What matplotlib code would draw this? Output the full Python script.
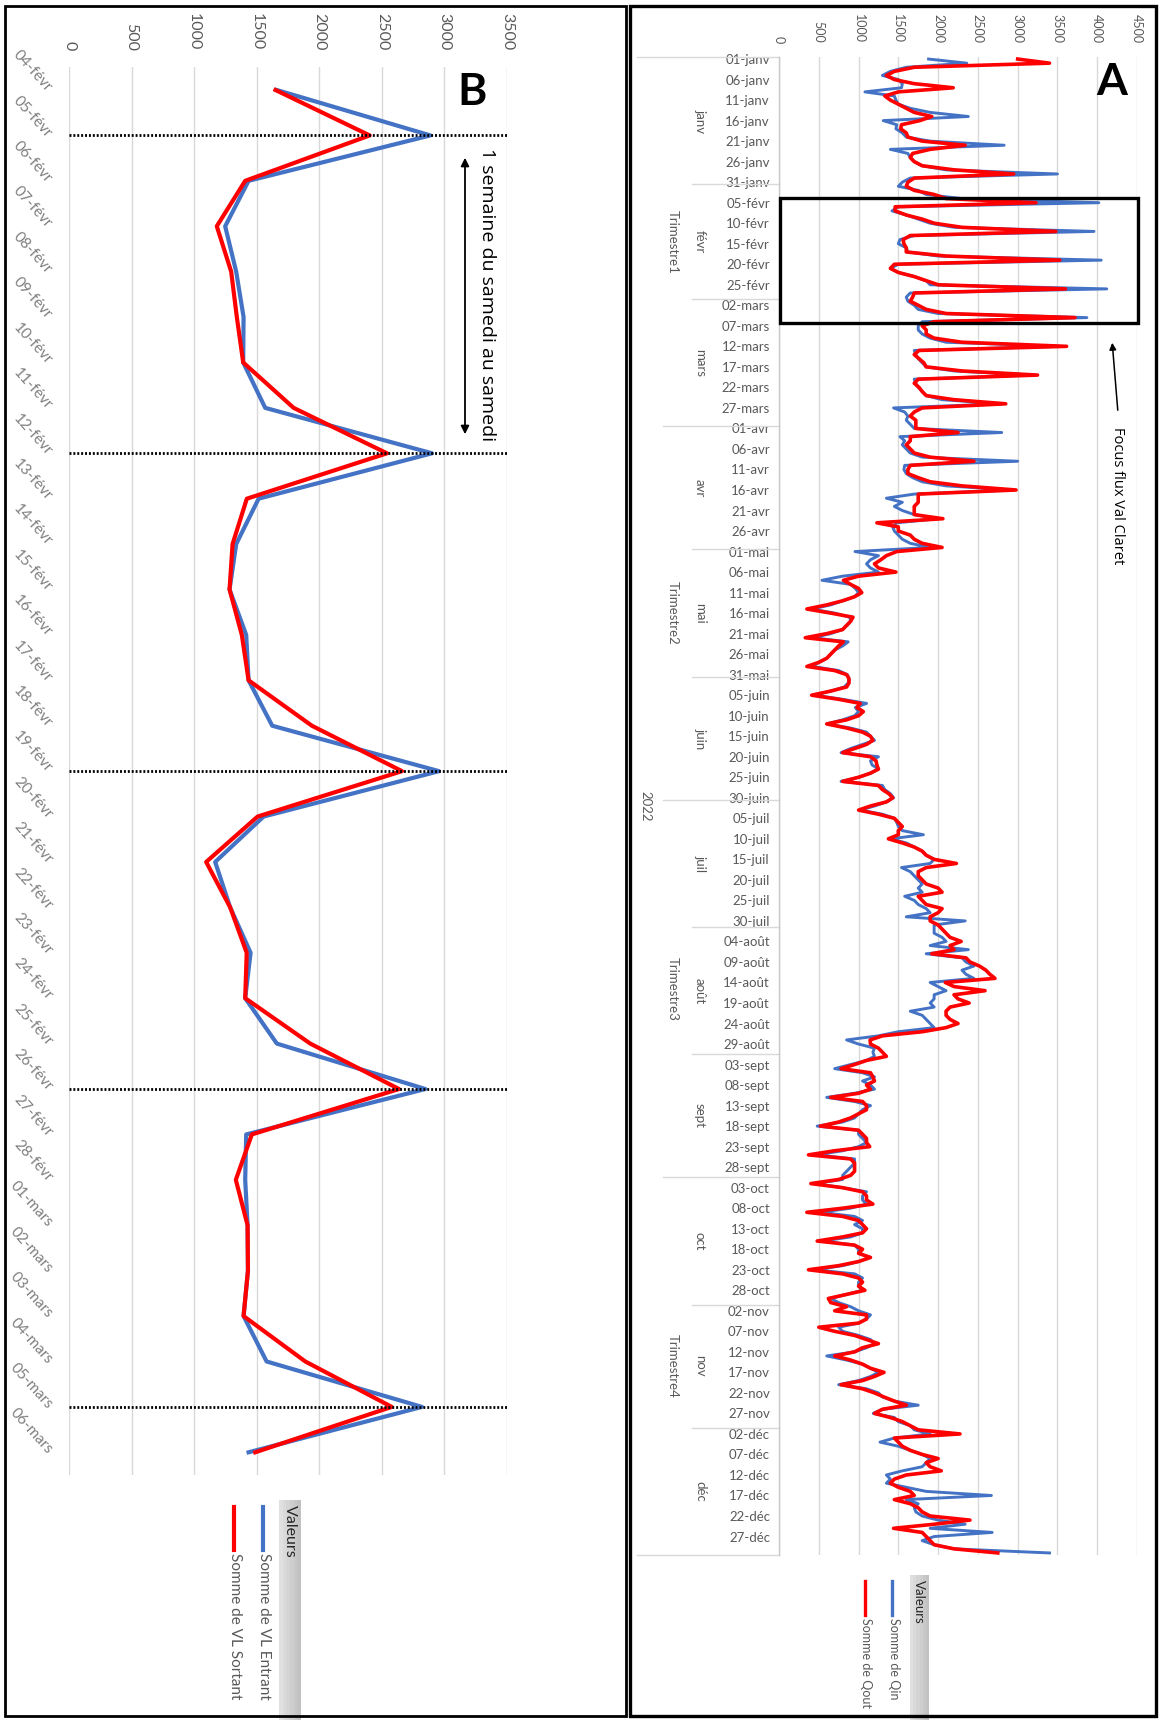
import datetime as dt
import numpy as np
import matplotlib
matplotlib.use("Agg")
import matplotlib.pyplot as plt
from matplotlib.patches import Rectangle, FancyArrowPatch
from matplotlib.lines import Line2D
import matplotlib.transforms as mtrans

plt.rcParams['font.family'] = ['Lato', 'DejaVu Sans']

# ---------------- DATA ----------------
# Panel A : daily totals 2022 (Qin = blue, Qout = red)
qin_janv = [1880, 2360, 1600, 1400, 1300, 1500, 1550, 1540, 1080, 1450, 1470, 1500, 1650, 1900, 2380, 1310,
            1480, 1470, 1550, 1600, 1900, 2830, 1400, 1620, 1650, 1700, 1800, 2100, 3500, 1650, 1550]
qout_janv = [3000, 3400, 1700, 1450, 1350, 1450, 1700, 2190, 1500, 1330, 1400, 1500, 1600, 1700, 1920, 1770,
             1540, 1530, 1600, 1620, 1800, 2340, 1900, 1680, 1650, 1700, 1800, 2200, 2950, 1700, 1620]
qin_fevr = [1500, 1750, 1850, 2300, 4020, 1500, 1420, 1600, 1750, 1900, 2200, 3960, 1700, 1520, 1500, 1600,
            1620, 2000, 4050, 1500, 1400, 1500, 1700, 1850, 1900, 4120, 1650, 1600]
qout_fevr = [1600, 1700, 1950, 2100, 3230, 1460, 1460, 1600, 1800, 1950, 2300, 3480, 1650, 1560, 1570, 1600,
             1600, 2100, 3530, 1450, 1400, 1500, 1700, 1850, 2000, 3600, 1700, 1680]
qin_mars = [1620, 1700, 1750, 2000, 3870, 1800, 1750, 1750, 1800, 1900, 2100, 3530, 1700, 1720, 1750, 1800,
            1850, 2200, 3180, 1700, 1720, 1750, 1800, 1850, 2050, 2800, 1440, 1580, 1620, 1600, 1650]
qout_mars = [1650, 1750, 1850, 2100, 3720, 1950, 1800, 1850, 1850, 1950, 2300, 3615, 1760, 1700, 1760, 1820,
             1850, 2300, 3250, 1750, 1700, 1760, 1800, 1850, 2200, 2850, 1800, 1700, 1650, 1720, 1720]
qin_avr = [1700, 2800, 1520, 1580, 1550, 1600, 1650, 1800, 3000, 1580, 1570, 1600, 1680, 1800, 2100, 2950,
           1700, 1350, 1550, 1450, 1550, 1700, 2000, 1480, 1430, 1450, 1500, 1550, 1650, 1900]
qout_avr = [1720, 2250, 1650, 1650, 1600, 1650, 1700, 1900, 2450, 1650, 1620, 1620, 1750, 1900, 2300, 2980,
            1750, 1750, 1750, 1700, 1700, 1700, 2060, 1230, 1500, 1500, 1650, 1700, 1800, 2050]
qin_mai = [955, 1250, 1150, 1100, 1150, 1250, 800, 540, 900, 960, 1000, 950, 800, 650, 410, 700,
           890, 900, 850, 800, 650, 420, 870, 800, 700, 650, 600, 500, 420, 750, 860]
qout_mai = [1480, 1350, 1280, 1200, 1250, 1470, 1000, 810, 900, 1000, 1040, 950, 800, 600, 350, 650,
            930, 900, 850, 800, 600, 330, 810, 750, 700, 650, 600, 500, 350, 700, 850]
qin_juin = [880, 870, 820, 650, 450, 800, 1100, 960, 1000, 950, 800, 600, 900, 1100, 1150, 1200,
            1050, 900, 780, 1250, 1150, 1170, 1250, 1150, 1000, 780, 1300, 1330, 1400, 1440]
qout_juin = [880, 880, 850, 650, 410, 750, 1020, 980, 1060, 1000, 850, 600, 850, 1050, 1150, 1180,
             1100, 950, 800, 1150, 1220, 1230, 1250, 1150, 1000, 800, 1250, 1300, 1380, 1430]
qin_juil = [1350, 1200, 1020, 1300, 1450, 1480, 1500, 1550, 1815, 1400, 1600, 1700, 1800, 1850, 1950, 1900,
            1540, 1650, 1700, 1750, 1800, 1750, 1800, 1580, 1700, 1750, 1850, 1900, 1600, 2340, 1950]
qout_juil = [1350, 1150, 1000, 1250, 1450, 1500, 1550, 1500, 1500, 1375, 1550, 1700, 1800, 1850, 1950, 2230,
             1850, 1750, 1750, 1800, 1850, 2000, 2050, 1750, 1800, 1850, 2050, 2000, 1900, 1900, 2000]
qin_aout = [1950, 1950, 2050, 2100, 1900, 2380, 1850, 2300, 2350, 2450, 2300, 2350, 2450, 1900, 2000, 2100,
            1950, 1950, 1900, 1950, 1650, 1800, 1850, 1900, 1950, 1500, 1250, 850, 1000, 1200, 1180]
qout_aout = [2050, 2100, 2150, 2290, 2150, 2200, 1920, 2350, 2400, 2520, 2600, 2650, 2715, 2090, 2200, 2590,
             2200, 2250, 2390, 2150, 2100, 2100, 2150, 2250, 2100, 1800, 1300, 1145, 1150, 1250, 1300]
qin_sept = [1200, 1100, 900, 700, 1050, 1200, 1050, 1150, 1200, 950, 600, 950, 1150, 1050, 1000, 950,
            800, 480, 1000, 1000, 1050, 1100, 1000, 800, 470, 950, 950, 900, 850, 800]
qout_sept = [1350, 1100, 950, 780, 1150, 1180, 1200, 1100, 1150, 1000, 650, 1050, 1100, 1100, 1000, 900,
             750, 520, 1000, 1050, 1100, 1100, 1140, 700, 370, 900, 950, 950, 950, 900]
qin_oct = [800, 450, 800, 1100, 1050, 1050, 1100, 900, 520, 950, 1050, 950, 1050, 1050, 900, 550,
           950, 1000, 1000, 1150, 1000, 800, 450, 950, 1050, 1000, 1000, 1050, 850, 650, 750]
qout_oct = [750, 400, 800, 1050, 1100, 1100, 1180, 800, 350, 800, 1000, 1050, 1100, 1050, 800, 480,
            950, 1050, 1000, 1150, 1000, 750, 370, 800, 1000, 1050, 1000, 1080, 850, 620, 650]
qin_nov = [900, 1000, 1150, 1100, 1000, 750, 800, 1000, 1150, 1200, 1100, 950, 600, 850, 1050, 1150,
           1250, 1150, 1000, 750, 1100, 1250, 1300, 1450, 1750, 1300, 1185, 1450, 1500, 1650]
qout_nov = [850, 700, 1100, 1100, 1000, 500, 700, 950, 1100, 1250, 1050, 950, 700, 900, 1050, 1150,
            1320, 1200, 1050, 780, 1050, 1200, 1320, 1450, 1600, 1300, 1200, 1400, 1550, 1650]
qin_dec = [1700, 1900, 1450, 1270, 1500, 1650, 1800, 1900, 1850, 1800, 1550, 1350, 1400, 1350, 1600, 1850,
           2670, 1600, 1750, 1700, 1720, 1800, 2000, 2340, 1900, 2680, 1950, 1800, 1950, 2200, 3400]
qout_dec = [1750, 2275, 1450, 1500, 1550, 1650, 1800, 2000, 1850, 1900, 2040, 1600, 1450, 1400, 1500, 1650,
            1700, 1450, 1650, 1750, 1800, 1900, 2400, 1950, 1440, 1800, 1850, 1900, 1950, 2200, 2750]

month_names = ["janv", "févr", "mars", "avr", "mai", "juin", "juil", "août", "sept", "oct", "nov", "déc"]
quarter_names = ["Trimestre1", "Trimestre2", "Trimestre3", "Trimestre4"]
year_label = "2022"
legend_A = ["Somme de Qin", "Somme de Qout"]

# Panel B : 04-févr -> 06-mars (VL entrant = blue, VL sortant = red)
vl_entrant = [1660, 2888, 1435, 1248, 1336, 1395, 1392, 1568, 2901, 1515, 1336, 1283, 1416, 1435, 1624, 2957,
              1555, 1168, 1288, 1451, 1408, 1661, 2848, 1416, 1408, 1427, 1430, 1395, 1579, 2821, 1435]
vl_sortant = [1650, 2403, 1408, 1181, 1296, 1341, 1392, 1795, 2541, 1421, 1307, 1283, 1381, 1435, 1941, 2661,
              1507, 1096, 1288, 1420, 1408, 1928, 2637, 1461, 1333, 1427, 1430, 1395, 1888, 2579, 1488]
legend_B = ["Somme de VL Entrant", "Somme de VL Sortant"]

qin = qin_janv + qin_fevr + qin_mars + qin_avr + qin_mai + qin_juin + qin_juil + qin_aout + qin_sept + qin_oct + qin_nov + qin_dec
qout = qout_janv + qout_fevr + qout_mars + qout_avr + qout_mai + qout_juin + qout_juil + qout_aout + qout_sept + qout_oct + qout_nov + qout_dec

# ---------------- LAYOUT HELPERS ----------------
W, H, DPI = 1161, 1720, 100
BLUE, RED = "#4472C4", "#FF0000"
GRID = "#d9d9d9"
TXT = "#595959"


def fx(x):
    return x / W


def fy(y):
    return 1 - y / H


def add_ax(left, top, right, bottom):
    return fig.add_axes([fx(left), fy(bottom), fx(right) - fx(left), fy(top) - fy(bottom)])


def day_label(d0, i):
    d = d0 + dt.timedelta(days=int(i))
    return f"{d.day:02d}-{month_names[d.month - 1]}"


fig = plt.figure(figsize=(W / DPI, H / DPI), dpi=DPI)
fig.patch.set_facecolor("white")

# ================= PANEL A =================
start = dt.date(2022, 1, 1)
n = len(qin)
days = np.arange(n)
axA = add_ax(779, 57, 1137, 1555)
axA.plot(qin, days, color=BLUE, lw=2.1, zorder=3, solid_joinstyle="round")
axA.plot(qout, days, color=RED, lw=2.6, zorder=4, solid_joinstyle="round")
axA.set_xlim(0, 4500)
axA.set_ylim(n - 0.5, -0.5)
axA.set_xticks(np.arange(0, 4501, 500))
axA.grid(axis="x", color=GRID, lw=1)
axA.set_axisbelow(True)
for s in axA.spines.values():
    s.set_visible(False)
axA.xaxis.tick_top()
axA.tick_params(axis="x", length=0, pad=10, labelsize=9, labelcolor=TXT, labelrotation=-90)
ytk = list(range(0, n, 5))
axA.set_yticks(ytk)
axA.set_yticklabels([day_label(start, i) for i in ytk])
axA.tick_params(axis="y", length=0, pad=6.5, labelsize=9.5, labelcolor=TXT)

trA = mtrans.blended_transform_factory(fig.transFigure, axA.transData)
# axis line
fig.add_artist(Line2D([fx(779), fx(779)], [fy(57), fy(1555)], color="#c8c8c8", lw=1))
# month / quarter boundaries and labels
month_len = [(dt.date(2022, m + 1, 1) - dt.date(2022, m, 1)).days if m < 12 else 31 for m in range(1, 13)]
pos = 0
for m in range(12):
    b = pos - 0.5
    if m == 0:
        x0 = 637
    elif m % 3 == 0:
        x0 = 663
    else:
        x0 = 692
    axA.add_line(Line2D([fx(x0), fx(779)], [b, b], transform=trA, color=GRID, lw=1, clip_on=False))
    axA.text(fx(700), pos + (month_len[m] - 1) / 2, month_names[m], transform=trA, rotation=-90,
             ha="center", va="center", fontsize=9.5, color=TXT, clip_on=False)
    if m % 3 == 0:
        qlen = sum(month_len[m:m + 3])
        axA.text(fx(673), pos + (qlen - 1) / 2, quarter_names[m // 3], transform=trA, rotation=-90,
                 ha="center", va="center", fontsize=9.5, color=TXT, clip_on=False)
    pos += month_len[m]
axA.add_line(Line2D([fx(637), fx(779)], [n - 0.5, n - 0.5], transform=trA, color=GRID, lw=1, clip_on=False))
axA.text(fx(645), (n - 1) / 2, year_label, transform=trA, rotation=-90, ha="center", va="center",
         fontsize=9.5, color=TXT, clip_on=False)

# annotations A
fig.text(fx(1112), fy(95), "A", fontsize=32, fontweight="bold", ha="center", va="baseline", color="black")
fig.add_artist(Rectangle((fx(780), fy(323)), fx(1138) - fx(780), fy(198) - fy(323),
                         transform=fig.transFigure, fill=False, ec="black", lw=2.4, zorder=10))
fig.text(fx(1117), fy(427), "Focus flux Val Claret", rotation=-90, ha="center", va="top",
         fontsize=10.5, color="black", family=["Open Sans", "DejaVu Sans"])
fig.add_artist(FancyArrowPatch((fx(1118), fy(413)), (fx(1112), fy(340)), transform=fig.transFigure,
                               arrowstyle="-|>", mutation_scale=10, lw=1.1, color="black"))

# legend A
for i, g in enumerate(np.linspace(0.88, 0.76, 6)):
    fig.add_artist(Rectangle((fx(910 + i * 19 / 6), fy(1720)), fx(19 / 6 + 0.3), fy(1575) - fy(1720),
                             transform=fig.transFigure, fc=(g, g, g), ec="none"))
fig.text(fx(919), fy(1580), "Valeurs", rotation=-90, ha="center", va="top", fontsize=9.5, color="#262626")
for xl, col, lab in [(892, BLUE, legend_A[0]), (865, RED, legend_A[1])]:
    fig.add_artist(Line2D([fx(xl), fx(xl)], [fy(1581), fy(1615)], color=col, lw=2.4))
    fig.text(fx(xl + 1.5), fy(1618), lab, rotation=-90, ha="center", va="top", fontsize=9, color=TXT)

# ================= PANEL B =================
startB = dt.date(2022, 2, 4)
nb = len(vl_entrant)
idx = list(range(nb))
axB = add_ax(69, 67.3, 507, 1475)
axB.plot(vl_entrant, idx, color=BLUE, lw=3.0, zorder=3)
axB.plot(vl_sortant, idx, color=RED, lw=3.0, zorder=4)
axB.set_xlim(0, 3500)
axB.set_ylim(nb - 0.5, -0.5)
axB.set_xticks(np.arange(0, 3501, 500))
axB.grid(axis="x", color=GRID, lw=1)
axB.set_axisbelow(True)
for s in axB.spines.values():
    s.set_visible(False)
axB.xaxis.tick_top()
axB.tick_params(axis="x", length=0, pad=12, labelsize=11.5, labelcolor=TXT, labelrotation=-90)
axB.set_yticks(idx)
axB.set_yticklabels([day_label(startB, i) for i in idx], rotation=-48, rotation_mode="anchor",
                    ha="right", va="center")
axB.tick_params(axis="y", length=0, pad=14, labelsize=11, labelcolor="#7f7f7f")
for i in idx:
    if (startB + dt.timedelta(days=int(i))).weekday() == 5:
        axB.axhline(i, xmin=0.0, xmax=1.003, color="black", lw=2.0, ls=(0, (0.7, 0.7)), zorder=6,
                    clip_on=False)

fig.text(fx(472), fy(105), "B", fontsize=32, fontweight="bold", ha="center", va="baseline", color="black")
fig.text(fx(487), fy(148), "1 semaine du samedi au samedi", rotation=-90, ha="center", va="top",
         fontsize=14, color="black", family=["Open Sans", "DejaVu Sans"])
fig.add_artist(FancyArrowPatch((fx(465), fy(155)), (fx(465), fy(437)), transform=fig.transFigure,
                               arrowstyle="<|-|>", mutation_scale=12, lw=1.3, color="black"))

# legend B
for i, g in enumerate(np.linspace(0.88, 0.76, 6)):
    fig.add_artist(Rectangle((fx(279 + i * 22 / 6), fy(1720)), fx(22 / 6 + 0.3), fy(1500) - fy(1720),
                             transform=fig.transFigure, fc=(g, g, g), ec="none"))
fig.text(fx(290), fy(1505), "Valeurs", rotation=-90, ha="center", va="top", fontsize=11.5, color="#262626")
for xl, col, lab in [(263, BLUE, legend_B[0]), (234, RED, legend_B[1])]:
    fig.add_artist(Line2D([fx(xl), fx(xl)], [fy(1507), fy(1550)], color=col, lw=3))
    fig.text(fx(xl + 1), fy(1553), lab, rotation=-90, ha="center", va="top", fontsize=11, color=TXT)

# ================= FRAMES =================
fig.add_artist(Rectangle((fx(5), fy(1716)), fx(626) - fx(5), fy(6) - fy(1716), transform=fig.transFigure,
                         fill=False, ec="black", lw=2.0, zorder=20))
fig.add_artist(Rectangle((fx(630), fy(1716)), fx(1156) - fx(630), fy(6) - fy(1716), transform=fig.transFigure,
                         fill=False, ec="black", lw=2.4, zorder=20))

fig.savefig("out.png", dpi=DPI, facecolor="white")
